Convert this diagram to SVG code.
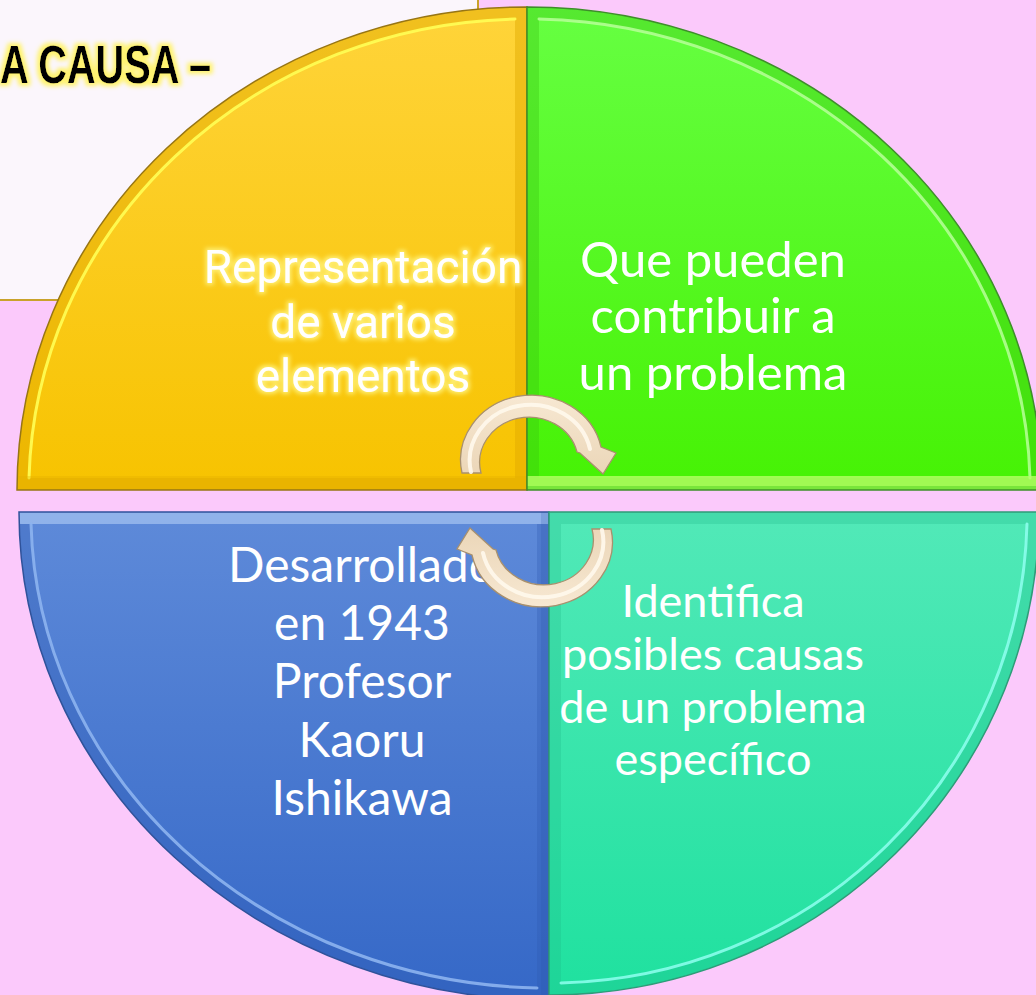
<svg xmlns="http://www.w3.org/2000/svg" width="1036" height="995" viewBox="0 0 1036 995">
<style>
.outline{fill:none;stroke-width:1.5}
.hl{fill:none;stroke-linecap:round}
.txt{fill:#FFFFFF;text-anchor:middle}
.din{font-family:Roboto,"Liberation Sans",sans-serif}
.cal{font-family:Lato,"Liberation Sans",sans-serif}
</style>
<defs>
<linearGradient id="gY" x1="0" y1="0" x2="0" y2="1"><stop offset="0" stop-color="#FFD43A"/><stop offset="1" stop-color="#F7C300"/></linearGradient>
<linearGradient id="gG" x1="0" y1="0" x2="0" y2="1"><stop offset="0" stop-color="#66FF42"/><stop offset="1" stop-color="#46F204"/></linearGradient>
<linearGradient id="gB" x1="0" y1="0" x2="0" y2="1"><stop offset="0" stop-color="#5E8AD9"/><stop offset="1" stop-color="#3568C7"/></linearGradient>
<linearGradient id="gT" x1="0" y1="0" x2="0" y2="1"><stop offset="0" stop-color="#52E9B8"/><stop offset="1" stop-color="#1FE19F"/></linearGradient>
<linearGradient id="gA" x1="0" y1="0" x2="0" y2="1"><stop offset="0" stop-color="#F7E8D2"/><stop offset="1" stop-color="#EBD6B8"/></linearGradient>
<clipPath id="cY"><path d="M527,490 L17,490 A510,483 0 0 1 527,7 Z"/></clipPath>
<clipPath id="cG"><path d="M527,490 L527,7 A515,483 0 0 1 1042,490 Z"/></clipPath>
<clipPath id="cB"><path d="M549,512 L19,512 A530,488 0 0 0 549,1000 Z"/></clipPath>
<clipPath id="cT"><path d="M549,512 L1039,512 A490,483 0 0 1 549,995 Z"/></clipPath>
<filter id="glowT" x="-10%" y="-30%" width="120%" height="160%">
<feMorphology in="SourceAlpha" operator="dilate" radius="2.5" result="d"/>
<feGaussianBlur in="d" stdDeviation="2" result="b"/>
<feFlood flood-color="#FFF36A" flood-opacity="0.95"/>
<feComposite in2="b" operator="in" result="g"/>
<feMerge><feMergeNode in="g"/><feMergeNode in="SourceGraphic"/></feMerge>
</filter>
<filter id="glowY" x="-10%" y="-30%" width="120%" height="160%">
<feMorphology in="SourceAlpha" operator="dilate" radius="1.5" result="d"/>
<feGaussianBlur in="d" stdDeviation="2" result="b"/>
<feFlood flood-color="#FFF27A" flood-opacity="0.9"/>
<feComposite in2="b" operator="in" result="g"/>
<feMerge><feMergeNode in="g"/><feMergeNode in="SourceGraphic"/></feMerge>
</filter>
<path id="arrowShape" d="M462,473 A70,64 0 0 1 601,447 L616,453 L603,474 L580,453 L577,452 A49,45 0 0 0 481,473 Z"/>
</defs>

<rect x="0" y="0" width="1036" height="995" fill="#FBC9FB"/>

<g id="titleBox">
<rect x="-2" y="-2" width="480" height="302" fill="#FBF6FC" stroke="#C9A22A" stroke-width="2"/>
<text x="0" y="83" font-family="'Liberation Sans',Arial,sans-serif" font-weight="bold" font-size="53" fill="#000000" textLength="211" lengthAdjust="spacingAndGlyphs" filter="url(#glowT)">A CAUSA –</text>
</g>

<g id="node-yellow">
<path d="M527,490 L17,490 A510,483 0 0 1 527,7 Z" fill="url(#gY)"/>
<path d="M527,490 L17,490 A510,483 0 0 1 527,7 Z" fill="none" stroke="#E0A800" stroke-opacity="0.45" stroke-width="24" clip-path="url(#cY)"/>
<path class="hl" d="M29,478 A498,471 0 0 1 515,19" stroke="#FFFF55" stroke-width="3" stroke-opacity="0.9"/>
<rect x="17" y="476" width="510" height="14" fill="#E2AE00" opacity="0.35" clip-path="url(#cY)"/>
<path class="outline" d="M527,490 L17,490 A510,483 0 0 1 527,7 Z" stroke="#977514"/>
<text class="txt din" font-size="46" filter="url(#glowY)"><tspan x="363" y="283">Representación</tspan><tspan x="363" y="338">de varios</tspan><tspan x="363" y="392">elementos</tspan></text>
</g>

<g id="node-green">
<path d="M527,490 L527,7 A515,483 0 0 1 1042,490 Z" fill="url(#gG)"/>
<path d="M527,490 L527,7 A515,483 0 0 1 1042,490 Z" fill="none" stroke="#38C010" stroke-opacity="0.35" stroke-width="24" clip-path="url(#cG)"/>
<path class="hl" d="M539,19 A503,471 0 0 1 1030,478" stroke="#B8FF9A" stroke-width="3" stroke-opacity="0.85"/>
<rect x="527" y="476" width="515" height="10" fill="#B8FF66" opacity="0.8" clip-path="url(#cG)"/>
<rect x="527" y="486" width="515" height="4" fill="#7EE640" opacity="0.9" clip-path="url(#cG)"/>
<path class="outline" d="M527,490 L527,7 A515,483 0 0 1 1042,490 Z" stroke="#3E8E2A"/>
<text class="txt cal" font-size="49"><tspan x="713" y="277">Que pueden</tspan><tspan x="713" y="333">contribuir a</tspan><tspan x="713" y="390">un problema</tspan></text>
</g>

<g id="node-blue">
<path d="M549,512 L19,512 A530,488 0 0 0 549,1000 Z" fill="url(#gB)"/>
<path d="M549,512 L19,512 A530,488 0 0 0 549,1000 Z" fill="none" stroke="#2D58AE" stroke-opacity="0.3" stroke-width="24" clip-path="url(#cB)"/>
<rect x="19" y="512" width="530" height="12" fill="#A6C6F4" opacity="0.75" clip-path="url(#cB)"/>
<path class="hl" d="M31,524 A518,476 0 0 0 537,988" stroke="#8DB4F0" stroke-width="3" stroke-opacity="0.9"/>
<rect x="541" y="512" width="8" height="488" fill="#2B57AC" opacity="0.2" clip-path="url(#cB)"/>
<path class="outline" d="M549,512 L19,512 A530,488 0 0 0 549,1000 Z" stroke="#2F529A"/>
<text class="txt cal" font-size="48"><tspan x="362" y="582">Desarrollado</tspan><tspan x="362" y="640">en 1943</tspan><tspan x="362" y="698">Profesor</tspan><tspan x="362" y="757">Kaoru</tspan><tspan x="362" y="815">Ishikawa</tspan></text>
</g>

<g id="node-teal">
<path d="M549,512 L1039,512 A490,483 0 0 1 549,995 Z" fill="url(#gT)"/>
<path d="M549,512 L1039,512 A490,483 0 0 1 549,995 Z" fill="none" stroke="#1CB385" stroke-opacity="0.25" stroke-width="24" clip-path="url(#cT)"/>
<path class="hl" d="M1027,524 A478,471 0 0 1 561,983" stroke="#8FFFF0" stroke-width="3" stroke-opacity="0.85"/>
<path class="outline" d="M549,512 L1039,512 A490,483 0 0 1 549,995 Z" stroke="#2E9C78"/>
<text class="txt cal" font-size="45"><tspan x="713" y="617">Identifica</tspan><tspan x="713" y="670">posibles causas</tspan><tspan x="713" y="723">de un problema</tspan><tspan x="713" y="775">específico</tspan></text>
</g>

<g id="connectors">
<g id="arrow-top">
<use href="#arrowShape" fill="url(#gA)" stroke="#A8906E" stroke-width="1.3"/>
<path class="hl" d="M471,472 A60,55 0 0 1 590,449" stroke="#FFF8EC" stroke-width="4" stroke-opacity="0.9"/>
</g>
<g id="arrow-bottom" transform="rotate(180 536.5 501)">
<use href="#arrowShape" fill="url(#gA)" stroke="#A8906E" stroke-width="1.3"/>
<path class="hl" d="M471,472 A60,55 0 0 1 590,449" stroke="#FFF8EC" stroke-width="4" stroke-opacity="0.9"/>
</g>
</g>
</svg>
